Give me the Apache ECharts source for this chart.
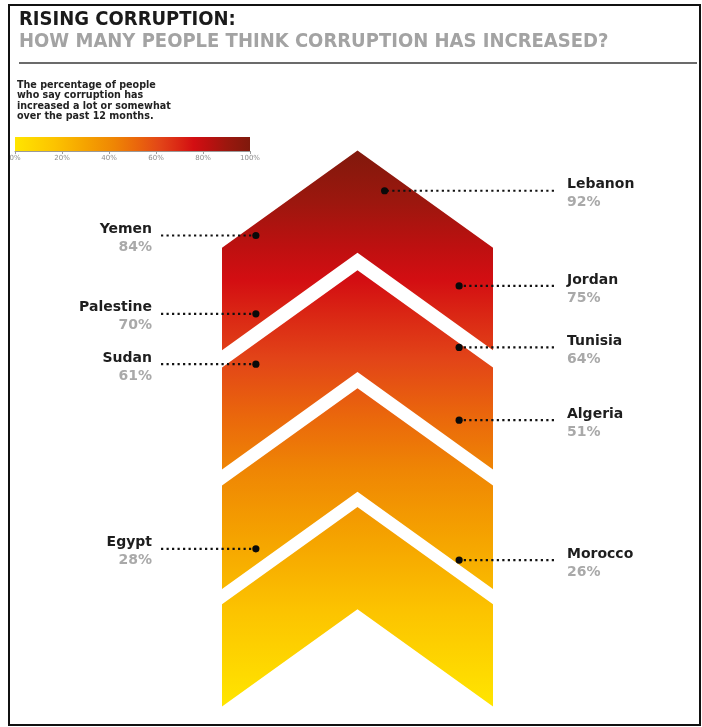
<!DOCTYPE html>
<html>
<head>
<meta charset="utf-8">
<script src="https://cdn.jsdelivr.net/npm/echarts@6/dist/echarts.min.js"></script>
<style>
  html, body { margin: 0; padding: 0; background: #fff; }
  #chart { width: 702px; height: 727px; }
</style>
</head>
<body>
<div id="chart"></div>
<script>
// Share of people who say corruption increased over the past 12 months
const countries = ['Lebanon', 'Yemen', 'Jordan', 'Palestine', 'Tunisia', 'Sudan', 'Algeria', 'Egypt', 'Morocco'];
const values    = [92, 84, 75, 70, 64, 61, 51, 28, 26];
const sides     = ['right', 'left', 'right', 'left', 'right', 'left', 'right', 'left', 'right'];
const scaleTicks = [0, 20, 40, 60, 80, 100];

// Arrow geometry in axis units: y in percent, x in half-widths of the arrow
const APEX_DROP = 17.4;                       // how far the side corners sit below the apex
const BANDS = [[99.2, 80.9], [77.8, 59.6], [56.7, 38.2], [35.5, 17.2]]; // [top apex, bottom apex]
const DOT_X = 0.75;                            // default marker offset from the centre line
const NARROW_DOT_X = { Lebanon: 0.2 };         // markers that sit close to the apex
const LEADER_X = 1.45;                         // where the dotted leaders end

// Colour ramp shared by the arrow and the key (0 = 0%, 1 = 100%)
const RAMP = [
  [0.00, '#ffe500'],
  [0.17, '#fcc300'],
  [0.30, '#f5a300'],
  [0.42, '#ef8604'],
  [0.52, '#ea660c'],
  [0.62, '#e24418'],
  [0.70, '#da2614'],
  [0.76, '#d30e12'],
  [0.82, '#bd1010'],
  [0.90, '#9c170e'],
  [1.00, '#7f190c']
];
const stops = RAMP.map(([o, c]) => ({ offset: o, color: c }));

const FONT = '"DejaVu Sans", Verdana, sans-serif';
const NARROW = '"DejaVu Sans Condensed", "Liberation Sans Narrow", "Arial Narrow", sans-serif';

const chart = echarts.init(document.getElementById('chart'), null, { renderer: 'canvas' });

const arrowSeries = {
  type: 'custom',
  xAxisIndex: 0, yAxisIndex: 0,
  silent: true,
  data: BANDS,
  renderItem(params, api) {
    const t = api.value(0), b = api.value(1);
    const pts = [
      api.coord([0, t]), api.coord([1, t - APEX_DROP]), api.coord([1, b - APEX_DROP]),
      api.coord([0, b]), api.coord([-1, b - APEX_DROP]), api.coord([-1, t - APEX_DROP])
    ];
    const p0 = api.coord([0, 0]), p100 = api.coord([0, 100]);
    return {
      type: 'polygon',
      shape: { points: pts },
      style: {
        fill: new echarts.graphic.LinearGradient(0, p0[1], 0, p100[1], stops, true)
      }
    };
  }
};

const labelSeries = {
  type: 'custom',
  xAxisIndex: 0, yAxisIndex: 0,
  silent: true,
  z: 5,
  data: countries.map((c, i) => [i, values[i]]),
  renderItem(params, api) {
    const i = api.value(0), v = api.value(1);
    const name = countries[i];
    const dir = sides[i] === 'left' ? -1 : 1;
    const dx = (NARROW_DOT_X[name] != null ? NARROW_DOT_X[name] : DOT_X) * dir;
    const dot = api.coord([dx, v]);
    const end = api.coord([LEADER_X * dir, v]);
    const tx = dir < 0 ? end[0] - 9 : end[0] + 13;
    const align = dir < 0 ? 'right' : 'left';
    return {
      type: 'group',
      children: [
        {
          type: 'line',
          shape: { x1: end[0], y1: end[1], x2: dot[0], y2: dot[1] },
          style: { stroke: '#111', lineWidth: 2.2, lineDash: [2.2, 3.3] }
        },
        {
          type: 'circle',
          shape: { cx: dot[0], cy: dot[1], r: 3.6 },
          style: { fill: '#0a0a0a' }
        },
        {
          type: 'text',
          style: {
            x: tx, y: dot[1] - 6, text: name, align: align, verticalAlign: 'middle',
            fill: '#1e1e1e', font: 'bold 14px ' + FONT
          }
        },
        {
          type: 'text',
          style: {
            x: tx, y: dot[1] + 12, text: v + '%', align: align, verticalAlign: 'middle',
            fill: '#a9a9a9', font: 'bold 14px ' + FONT
          }
        }
      ]
    };
  }
};

const keySeries = {
  type: 'custom',
  xAxisIndex: 1, yAxisIndex: 1,
  silent: true,
  data: [[scaleTicks[0], scaleTicks[scaleTicks.length - 1]]],
  renderItem(params, api) {
    const a = api.coord([api.value(0), 1]);
    const b = api.coord([api.value(1), 0]);
    return {
      type: 'rect',
      shape: { x: a[0], y: a[1], width: b[0] - a[0], height: b[1] - a[1] },
      style: { fill: new echarts.graphic.LinearGradient(a[0], 0, b[0], 0, stops, true) }
    };
  }
};

chart.setOption({
  animation: false,
  backgroundColor: '#fff',
  title: {
    text: 'RISING CORRUPTION:',
    subtext: 'HOW MANY PEOPLE THINK CORRUPTION HAS INCREASED?',
    left: 14, top: 5,
    itemGap: 2,
    textStyle: { fontFamily: NARROW, fontSize: 20, fontWeight: 'bold', color: '#1a1a1a' },
    subtextStyle: { fontFamily: NARROW, fontSize: 20, fontWeight: 'bold', color: '#a3a3a3' }
  },
  grid: [
    { left: 222, right: 209, top: 146, bottom: 21.5 },
    { left: 15, width: 235, top: 137, height: 14 }
  ],
  xAxis: [
    { type: 'value', gridIndex: 0, min: -1, max: 1, show: false },
    {
      type: 'value', gridIndex: 1, min: 0, max: 100, interval: 20,
      axisLine: { show: true, lineStyle: { color: '#9a9a9a', width: 1 } },
      axisTick: { show: true, length: 3, lineStyle: { color: '#9a9a9a' } },
      splitLine: { show: false },
      axisLabel: { formatter: '{value}%', fontSize: 7, color: '#8c8c8c', margin: 4, fontFamily: FONT }
    }
  ],
  yAxis: [
    { type: 'value', gridIndex: 0, min: 0, max: 100, show: false },
    { type: 'value', gridIndex: 1, min: 0, max: 1, show: false }
  ],
  graphic: [
    {
      type: 'rect', silent: true,
      shape: { x: 9, y: 5, width: 691, height: 720 },
      style: { fill: 'none', stroke: '#111', lineWidth: 2 }
    },
    {
      type: 'line', silent: true,
      shape: { x1: 19, y1: 63, x2: 697, y2: 63 },
      style: { stroke: '#3a3a3a', lineWidth: 1.5 }
    },
    {
      type: 'text', silent: true, left: 17, top: 80,
      style: {
        text: 'The percentage of people\nwho say corruption has\nincreased a lot or somewhat\nover the past 12 months.',
        font: 'bold 9.6px ' + FONT, lineHeight: 10.4, fill: '#222'
      }
    }
  ],
  series: [arrowSeries, labelSeries, keySeries]
});
</script>
</body>
</html>
